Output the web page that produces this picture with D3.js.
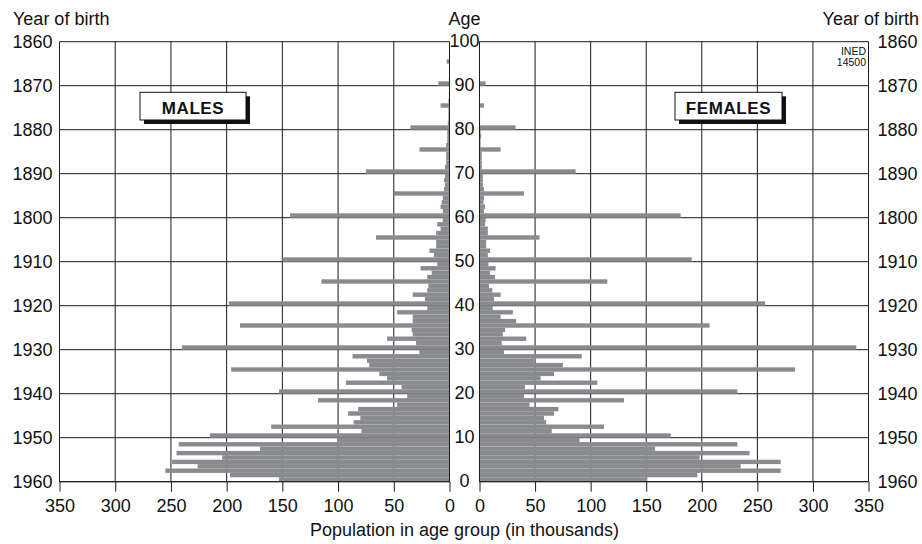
<!DOCTYPE html>
<html><head><meta charset="utf-8">
<script src="https://cdn.jsdelivr.net/npm/d3@7"></script>
<style>
html,body{margin:0;padding:0;background:#fff;}
svg{display:block;}
text{font-family:"Liberation Sans",Arial,sans-serif;fill:#111;}
</style></head>
<body><svg id="chart" width="922" height="544"></svg>
<script>
// Population by single year of age (thousands), index = age 0..100
const males = [153,197,255,226,249,204,245,170,243,101,
  215,79,160,86,80,91,82,47,118,38,
  153,43,93,56,63,196,72,74,87,27,
  240,30,56,33,34,188,33,33,47,20,
  198,22,33,20,19,115,20,16,26,11,
  150,14,18,12,12,66,12,8,11,6,
  143,6,8,7,6,50,5,4,5,4,
  75,4,3,3,3,27,3,2,2,2,
  35,1.5,1,1,1,8,1,0.5,0.5,0.5,
  10,0.5,0.3,0.3,0.3,2.5,0,0,0,0,0];
const females = [151,196,271,235,271,198,243,158,232,90,
  172,65,112,60,58,67,71,45,130,40,
  232,41,106,55,67,284,75,49,92,22,
  339,20,42,21,23,207,33,19,30,12,
  257,13,19,11.5,8.5,115,14,9.5,14.5,8,
  191,7.5,9.5,6,6,54,7.5,7.5,5,5.5,
  181,4,5,3.5,4,40,4,3,3,3,
  86.5,2,2,2,2,19,1,1,1.5,1,
  32.5,0.5,0.5,0.5,0.5,4,0.3,0.3,0.3,0.3,
  5.5,0,0,0,0,0,0,0,0,0,0];
const popTicks = [0,50,100,150,200,250,300,350];
const ageTicks = [0,10,20,30,40,50,60,70,80,90,100];
const yearLabels = ["1960","1950","1940","1930","1920","1910","1800","1890","1880","1870","1860"];

const svg = d3.select("#chart");
const xL = d3.scaleLinear().domain([0,350]).range([449.5,59.5]);
const xR = d3.scaleLinear().domain([0,350]).range([479.5,868.5]);
const y = d3.scaleLinear().domain([0,100]).range([481.7,41.7]);
const barColor = "#8a8b8e";
const gridColor = "#1a1a1a";
const FS = 18;

function panel(x, data, side){
  const g = svg.append("g");
  g.selectAll("line.v").data(popTicks).join("line")
    .attr("x1",d=>x(d)).attr("x2",d=>x(d))
    .attr("y1",y(100)).attr("y2",y(0))
    .attr("stroke",gridColor).attr("stroke-width",1);
  g.selectAll("line.h").data(ageTicks).join("line")
    .attr("x1",x(0)).attr("x2",x(350))
    .attr("y1",d=>y(d)).attr("y2",d=>y(d))
    .attr("stroke",gridColor).attr("stroke-width",1);
  const bh = y(0)-y(1);
  g.selectAll("rect").data(data).join("rect")
    .attr("x",(d)=>Math.min(x(0),x(d)))
    .attr("width",d=>Math.abs(x(d)-x(0)))
    .attr("y",(d,i)=>y(i+1))
    .attr("height",bh)
    .attr("fill",barColor);
  g.append("line").attr("x1",x(0)).attr("x2",x(0)).attr("y1",y(100)).attr("y2",y(0))
    .attr("stroke",gridColor).attr("stroke-width",1);
  g.append("line").attr("x1",x(0)).attr("x2",x(350)).attr("y1",y(0)).attr("y2",y(0))
    .attr("stroke",gridColor).attr("stroke-width",1);
  const ax = d3.axisBottom(x).tickValues(popTicks).tickSize(10).tickPadding(8).tickFormat(d3.format("d"));
  const ag = g.append("g").attr("transform",`translate(0,${y(0)})`).call(ax);
  ag.select(".domain").remove();
  ag.selectAll(".tick line").attr("stroke",gridColor);
  ag.selectAll(".tick text").attr("font-size",FS).attr("fill","#111")
    .attr("font-family","Liberation Sans, Arial, sans-serif");
  const ya = (side==="L" ? d3.axisLeft(y) : d3.axisRight(y))
    .tickValues(ageTicks).tickSize(0).tickPadding(side==="L"?7:9)
    .tickFormat((d,i)=>yearLabels[i]);
  const yg = g.append("g").attr("transform",`translate(${x(350)},0)`).call(ya);
  yg.select(".domain").remove();
  yg.selectAll(".tick text").attr("font-size",FS).attr("fill","#111").attr("dy","0.3em")
    .attr("font-family","Liberation Sans, Arial, sans-serif");
}
panel(xL, males, "L");
panel(xR, females, "R");

const cx = (xL(0)+xR(0))/2;
svg.append("g").selectAll("text").data(ageTicks).join("text")
  .attr("x",cx).attr("y",d=>y(d)).attr("dy","0.3em")
  .attr("text-anchor","middle").attr("font-size",FS).text(d=>d);

svg.append("text").attr("x",13).attr("y",25).attr("font-size",FS).text("Year of birth");
svg.append("text").attr("x",919).attr("y",25).attr("text-anchor","end").attr("font-size",FS).text("Year of birth");
svg.append("text").attr("x",cx).attr("y",25).attr("text-anchor","middle").attr("font-size",FS).text("Age");
svg.append("text").attr("x",cx).attr("y",536).attr("text-anchor","middle").attr("font-size",FS)
  .text("Population in age group (in thousands)");

svg.append("text").attr("x",866).attr("y",55).attr("text-anchor","end").attr("font-size",10.5)
  .attr("font-family","Liberation Sans Narrow, Arial Narrow, sans-serif").text("INED");
svg.append("text").attr("x",866).attr("y",66).attr("text-anchor","end").attr("font-size",10.5)
  .attr("font-family","Liberation Sans Narrow, Arial Narrow, sans-serif").text("14500");

function sexBox(x0, x1, label){
  const y0 = 92.3, y1 = 120;
  svg.append("rect").attr("x",x0+4).attr("y",y0+4).attr("width",x1-x0).attr("height",y1-y0).attr("fill","#111");
  svg.append("rect").attr("x",x0).attr("y",y0).attr("width",x1-x0).attr("height",y1-y0)
    .attr("fill","#fff").attr("stroke","#111").attr("stroke-width",1);
  svg.append("text").attr("x",(x0+x1)/2).attr("y",114).attr("text-anchor","middle")
    .attr("font-family","Liberation Serif, Times New Roman, serif").attr("font-weight","bold")
    .attr("font-size",17).attr("letter-spacing","0.6").text(label);
}
sexBox(140, 246, "MALES");
sexBox(675, 782, "FEMALES");
</script></body></html>
